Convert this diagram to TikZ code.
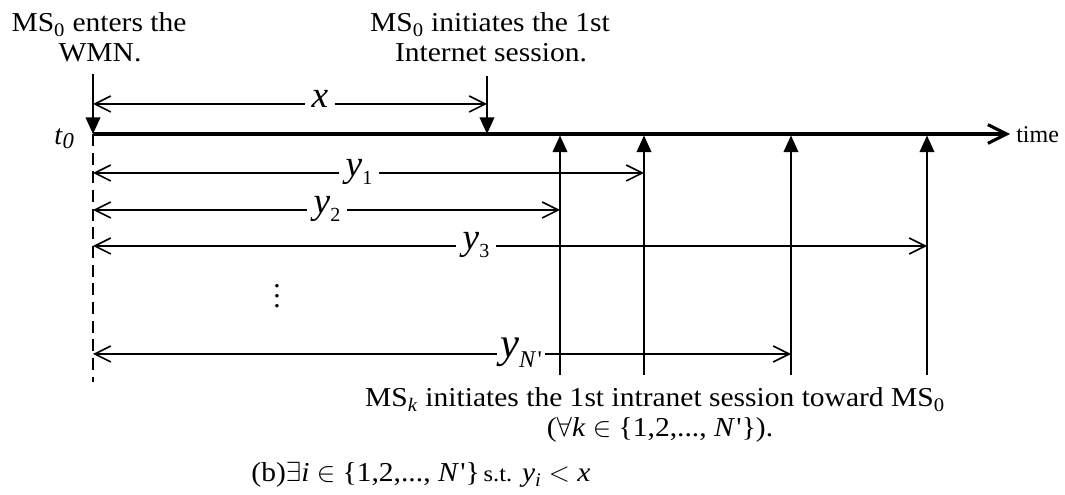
\documentclass[tikz,border=0pt]{standalone}
\usepackage{fontspec}
\setmainfont{Liberation Serif}[Ligatures=TeXOff]
\newfontfamily\txtfont{Liberation Serif}[Ligatures=TeXOff,FakeStretch=1.08]
\usetikzlibrary{arrows.meta}
\tikzset{
  dimline/.style={line width=1.2pt,
    {Straight Barb[length=12pt,width=12pt]}-{Straight Barb[length=12pt,width=12pt]}},
  marker/.style={line width=1.4pt, -{Triangle[length=12.5pt,width=11pt]}},
  timeaxis/.style={line width=2.3pt, -{Straight Barb[length=14pt,width=14pt]}},
  dashline/.style={line width=1.2pt, dash pattern=on 9pt off 5pt},
  txt/.style={font=\txtfont\fontsize{20.5}{24}\selectfont, inner sep=0pt, anchor=base},
  dimlabel/.style={font=\fontsize{28}{28}\selectfont, fill=white, inner xsep=5pt, inner ysep=1pt, anchor=mid},
}
\newcommand{\ysub}[2]{\textit{y}\raisebox{-6pt}{\fontsize{#2}{#2}\selectfont #1}}
\begin{document}
\begin{tikzpicture}[x=0.75pt,y=-0.75pt]
\useasboundingbox (0,0) rectangle (1065,495);
% coordinates
\coordinate (o) at (93,134);
\coordinate (otop) at (93,74);
\coordinate (obot) at (93,382);
\coordinate (tend) at (1010,134);
\coordinate (stop) at (487,76);
\coordinate (s) at (487,134);
\coordinate (xl) at (93,104);
\coordinate (xr) at (487,104);
\coordinate (k2t) at (560,135.5);  \coordinate (k2b) at (560,375);
\coordinate (k1t) at (644,135.5);  \coordinate (k1b) at (644,375);
\coordinate (kNt) at (791,135.5);  \coordinate (kNb) at (791,375);
\coordinate (k3t) at (927,135.5);  \coordinate (k3b) at (927,375);
\coordinate (y1l) at (93,173);  \coordinate (y1r) at (644,173);
\coordinate (y2l) at (93,210);  \coordinate (y2r) at (560,210);
\coordinate (y3l) at (93,246);  \coordinate (y3r) at (927,246);
\coordinate (yNl) at (93,354);  \coordinate (yNr) at (791,354);
% time axis and markers
\draw[dashline] (o) -- (obot);
\draw[timeaxis] (o) -- (tend);
\draw[marker] (otop) -- (o);
\draw[marker] (stop) -- (s);
\draw[marker] (k2b) -- (k2t);
\draw[marker] (k1b) -- (k1t);
\draw[marker] (kNb) -- (kNt);
\draw[marker] (k3b) -- (k3t);
% dimension lines
\draw[dimline] (xl) -- (xr);
\draw[dimline] (y1l) -- (y1r);
\draw[dimline] (y2l) -- (y2r);
\draw[dimline] (y3l) -- (y3r);
\draw[dimline] (yNl) -- (yNr);
% dimension labels
\node[dimlabel] (xlab) at (320,104) {\textit{x}};
\node[dimlabel] (y1lab) at (359,173) {\ysub{1}{15}};
\node[dimlabel] (y2lab) at (327,210) {\ysub{2}{15}};
\node[dimlabel] (y3lab) at (476,246) {\ysub{3}{15}};
\node[dimlabel, font=\fontsize{32}{32}\selectfont, inner xsep=2pt] (yNlab) at (521,354)
  {\textit{y}\raisebox{-8pt}{\fontsize{18}{18}\selectfont\textit{N}\kern1pt'}};
\node[font=\fontsize{22}{22}\selectfont, inner sep=0pt] (dots) at (277,296)
  {\vbox{\baselineskip=7.5pt\lineskiplimit=0pt\hbox{.}\hbox{.}\hbox{.}}};
% texts
\node[txt] (enter1) at (99,32) {MS\textsubscript{0} enters the};
\node[txt] (enter2) at (100,62) {WMN.};
\node[txt] (init1) at (490,32) {MS\textsubscript{0} initiates the 1st};
\node[txt] (init2) at (491,62) {Internet session.};
\node[font=\fontsize{21}{21}\selectfont, inner sep=0pt, anchor=base west] (t0) at (54,145)
  {\textit{t}\raisebox{-3pt}{\fontsize{17}{17}\selectfont\textit{0}}};
\node[font=\fontsize{18}{18}\selectfont, inner sep=0pt, anchor=base west] (time) at (1016,143) {time};
\node[txt] (msk1) at (655,407) {MS\textsubscript{\textit{k}} initiates the 1st intranet session toward MS\textsubscript{0}};
\node[txt] (msk2) at (660,437) {($\forall$\textit{k} $\in$ \{1,2,..., \textit{N}\kern1pt'\}).};
\node[txt] (cap) at (421,482) {(b)$\exists$\textit{i} $\in$ \{1,2,..., \textit{N}\kern1pt'\}{\fontsize{17}{17}\selectfont\,s.t.} \textit{y}\textsubscript{\textit{i}} $<$ \textit{x}};
\end{tikzpicture}
\end{document}
